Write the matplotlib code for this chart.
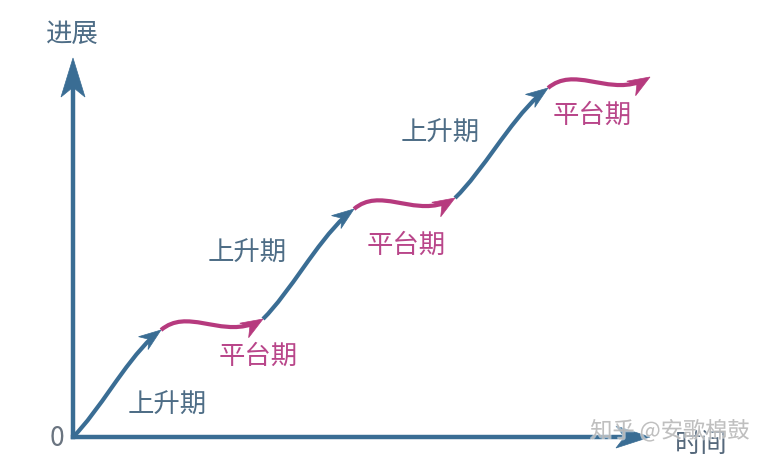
import numpy as np
import matplotlib
matplotlib.use("Agg")
import matplotlib.pyplot as plt
from matplotlib.path import Path
from matplotlib.patches import PathPatch, Polygon
from matplotlib.bezier import BezierSegment, split_de_casteljau
import matplotlib.patheffects as pe

plt.rcParams['font.family'] = ['Noto Sans CJK SC', 'DejaVu Sans']

# ---------------- data ----------------
# stage boundary points (time, progress)
times = [0, 88, 190, 281, 382, 475, 577]
progress = [0, 107, 118, 228, 239, 349, 360]
phases = ['上升期', '平台期', '上升期', '平台期', '上升期', '平台期']
x_axis_label = '时间'
y_axis_label = '进展'
origin_label = '0'
watermark = '知乎 @安歌棉鼓'
axis_x_end = 577
axis_y_end = 379

# ---------------- layout / style ----------------
label_pos = [(94, 32), (185, 81), (174, 184), (333, 192), (367, 304), (519, 322)]
BLUE = '#3a6d94'
MAGENTA = '#b63a7e'
BLUE_TXT = '#4e6d86'
MAG_TXT = '#b9468a'

fig = plt.figure(figsize=(7.72, 4.62), dpi=100)
ax = fig.add_axes([0, 0, 1, 1])
ax.set_xlim(-73, 699)
ax.set_ylim(-25, 437)
ax.axis('off')


def head(tip, ang, L, W, n, color):
    c, s = np.cos(ang), np.sin(ang)
    R = np.array([[c, -s], [s, c]])
    local = np.array([[0, 0], [-L, W], [-n * L, 0], [-L, -W]])
    pts = local @ R.T + np.asarray(tip)
    ax.add_patch(Polygon(pts, closed=True, facecolor=color, edgecolor=color,
                         lw=0.5, joinstyle='miter', zorder=4))


def curve(ctrl, color, L=22, W=8, n=0.7):
    ctrl = np.asarray(ctrl, float)
    seg = BezierSegment(ctrl)
    end = ctrl[-1]
    cut = 0.55 * L
    lo, hi = 0.0, 1.0
    for _ in range(40):
        mid = (lo + hi) / 2
        if np.hypot(*(seg.point_at_t(mid) - end)) > cut:
            lo = mid
        else:
            hi = mid
    left, _ = split_de_casteljau(ctrl, lo)
    path = Path(left, [Path.MOVETO, Path.CURVE4, Path.CURVE4, Path.CURVE4])
    ax.add_patch(PathPatch(path, fill=False, edgecolor=color, lw=3.0,
                           capstyle='butt', zorder=3))
    d = ctrl[3] - ctrl[2]
    head(end, np.arctan2(d[1], d[0]), L, W, n, color)


for i in range(len(times) - 1):
    A = np.array([times[i], progress[i]], float)
    B = np.array([times[i + 1], progress[i + 1]], float)
    dx, dy = B - A
    if i % 2 == 0:  # rise
        c1 = A + [0.33 * dx, 0.27 * dy]
        c2 = B - [0.36 * dx, 0.22 * dy]
        curve([A, c1, c2, B], BLUE)
    else:  # plateau
        c1 = A + [0.28 * dx, 24]
        c2 = A + [0.63 * dx, -12]
        curve([A, c1, c2, B], MAGENTA, L=22, W=8.5, n=0.7)

# axes with arrows
ax.plot([0, axis_x_end - 20], [0, 0], color=BLUE, lw=3.2, solid_capstyle='projecting', zorder=2)
ax.plot([0, 0], [0, axis_y_end - 25], color=BLUE, lw=3.2, solid_capstyle='projecting', zorder=2)
head((axis_x_end, 0), 0.0, 34, 11, 0.75, BLUE)
head((0, axis_y_end), np.pi / 2, 39, 12, 0.75, BLUE)

fs = 19
for (lx, ly), txt in zip(label_pos, phases):
    col = BLUE_TXT if txt == '上升期' else MAG_TXT
    ax.text(lx, ly, txt, color=col, fontsize=fs, ha='center', va='center', zorder=5)

ax.text(-1, 403, y_axis_label, color=BLUE_TXT, fontsize=fs, ha='center', va='center')
ax.text(-16, -1, origin_label, color='#6a7480', fontsize=fs, ha='center', va='center')
ax.text(628, -7, x_axis_label, color='#56697c', fontsize=fs, ha='center', va='center', zorder=5)

ax.text(597, 6, watermark, color='#b4b4b4', fontsize=16, ha='center', va='center',
        alpha=0.8, zorder=6,
        path_effects=[pe.withStroke(linewidth=1.5, foreground='white', alpha=0.5)])

fig.savefig('out.png', dpi=100)
